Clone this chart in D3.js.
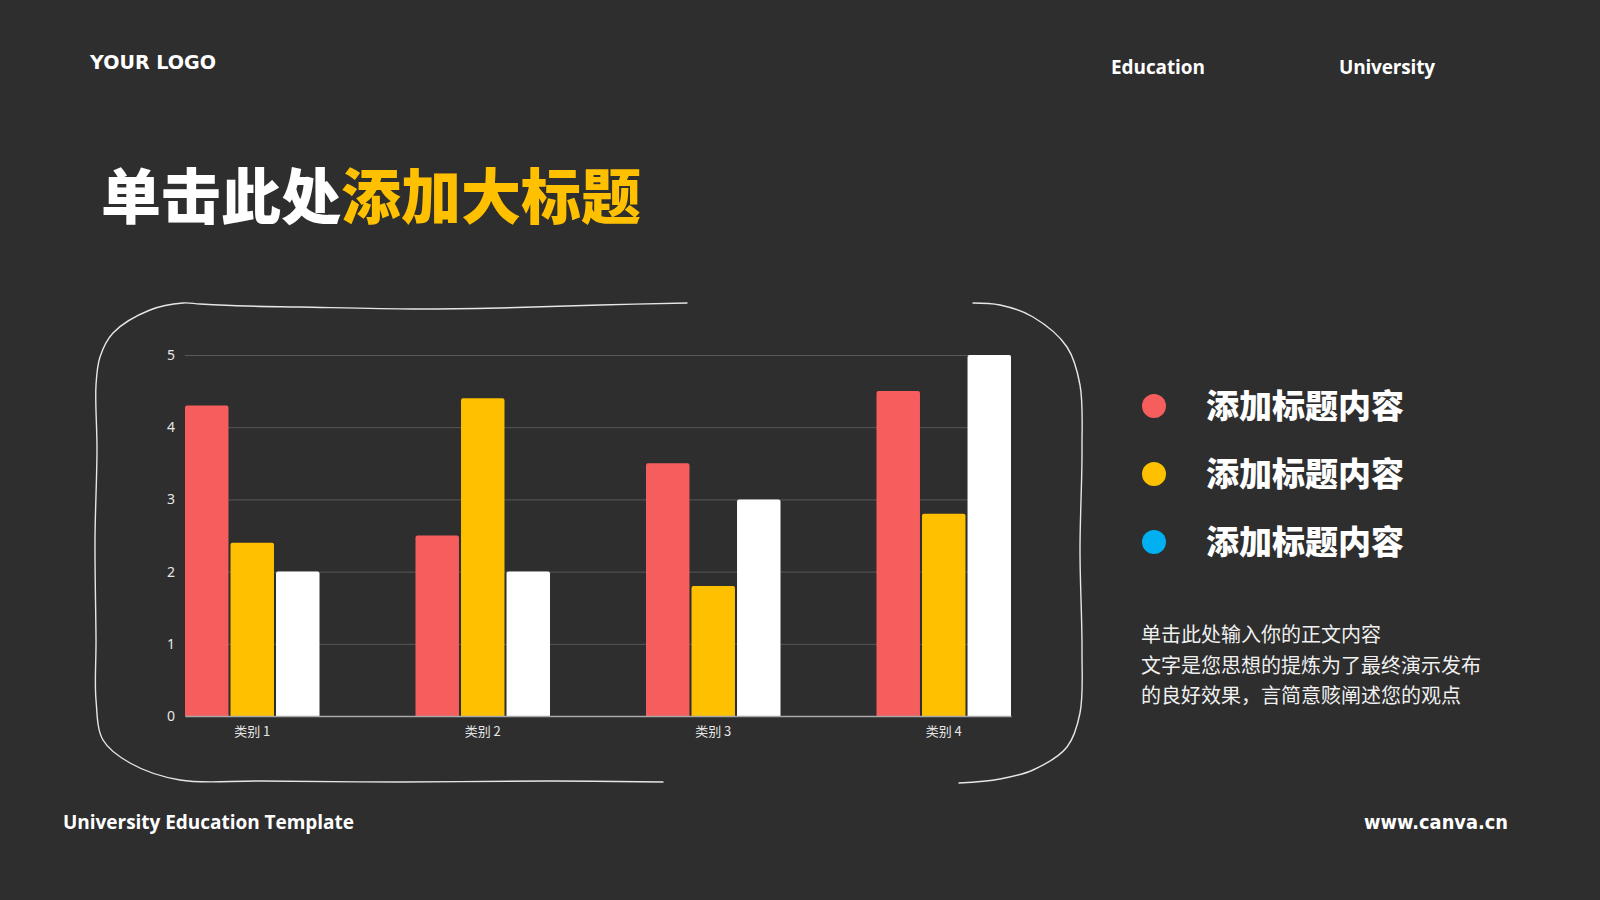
<!DOCTYPE html>
<html>
<head>
<meta charset="utf-8">
<script src="https://cdn.jsdelivr.net/npm/d3@7"></script>
<style>
  html, body { margin: 0; padding: 0; background: #2e2e2e; }
  svg { display: block; }
</style>
</head>
<body>
<div id="chart"></div>
<script>
// dữ liệu của biểu đồ
const categories = ["类别 1", "类别 2", "类别 3", "类别 4"];
const series1 = [4.3, 2.5, 3.5, 4.5];
const series2 = [2.4, 4.4, 1.8, 2.8];
const series3 = [2, 2, 3, 5];
const yTicks = [0, 1, 2, 3, 4, 5];
const legendLabels = ["添加标题内容", "添加标题内容", "添加标题内容"];
const bodyLines = ["单击此处输入你的正文内容", "文字是您思想的提炼为了最终演示发布", "的良好效果，言简意赅阐述您的观点"];

const barColors = ["#f65e5e", "#ffc000", "#ffffff"];
const dotColors = ["#f65e5e", "#ffc000", "#00b0f0"];

const W = 1600, H = 900;
const plot = { left: 185, right: 1011, top: 355, bottom: 716 };

const svg = d3.select("#chart").append("svg")
    .attr("width", W)
    .attr("height", H);

svg.append("rect").attr("width", W).attr("height", H).attr("fill", "#2e2e2e");

// header / footer
const cjk = "'Noto Sans CJK SC', 'Noto Sans', sans-serif";
svg.append("text")
    .attr("x", 90).attr("y", 69)
    .attr("textLength", 126).attr("lengthAdjust", "spacingAndGlyphs")
    .style("font-family", "'DejaVu Sans', sans-serif")
    .style("font-weight", 700).style("font-size", "19px")
    .attr("fill", "#fff")
    .text("YOUR  LOGO");

svg.append("text")
    .attr("x", 1111).attr("y", 74)
    .attr("textLength", 94).attr("lengthAdjust", "spacing")
    .style("font-family", "'Open Sans', sans-serif")
    .style("font-weight", 700).style("font-size", "19px")
    .attr("fill", "#fff").text("Education");

svg.append("text")
    .attr("x", 1339).attr("y", 74)
    .attr("textLength", 96).attr("lengthAdjust", "spacing")
    .style("font-family", "'Open Sans', sans-serif")
    .style("font-weight", 700).style("font-size", "19px")
    .attr("fill", "#fff").text("University");

svg.append("text")
    .attr("x", 63).attr("y", 829)
    .attr("textLength", 291).attr("lengthAdjust", "spacing")
    .style("font-family", "'Open Sans', sans-serif")
    .style("font-weight", 700).style("font-size", "19px")
    .attr("fill", "#fff").text("University  Education Template");

svg.append("text")
    .attr("x", 1364).attr("y", 829)
    .attr("textLength", 144).attr("lengthAdjust", "spacingAndGlyphs")
    .style("font-family", "'DejaVu Sans', sans-serif")
    .style("font-weight", 700).style("font-size", "20px")
    .attr("fill", "#fff").text("www.canva.cn");

// tiêu đề lớn
const title = svg.append("text")
    .attr("x", 101).attr("y", 219)
    .style("font-family", cjk)
    .style("font-weight", 900).style("font-size", "60px");
title.append("tspan").attr("fill", "#ffffff").text("单击此处");
title.append("tspan").attr("fill", "#ffc000").text("添加大标题");

// khung vẽ tay
const frameA = [
    [687, 303], [600, 305], [500, 308], [413, 309], [300, 307], [247, 306], [200, 304], [183, 303],
    [150, 310], [113, 333], [100, 357], [96, 385], [97, 450], [95, 540], [96, 640], [96, 700],
    [103, 740], [130, 763], [180, 780], [260, 781], [400, 782], [550, 781], [663, 782]
];
const frameB = [
    [959, 783], [1000, 779], [1033, 770], [1067, 747], [1080, 713], [1082, 650], [1080, 550],
    [1082, 450], [1080, 385], [1067, 347], [1033, 317], [1000, 305], [973, 303]
];
const line = d3.line().curve(d3.curveCatmullRom.alpha(0.5));
[frameA, frameB].forEach(pts => {
    svg.append("path")
        .attr("d", line(pts))
        .attr("fill", "none")
        .attr("stroke", "#e6e6e6")
        .attr("stroke-width", 1.4)
        .attr("stroke-linecap", "round");
});

// thang đo
const x0 = d3.scaleBand()
    .domain(categories)
    .range([plot.left, plot.right])
    .paddingInner(0.4165)
    .paddingOuter(0);

const x1 = d3.scaleBand()
    .domain([0, 1, 2])
    .range([0, x0.bandwidth()])
    .paddingInner(0.045);

const y = d3.scaleLinear()
    .domain([0, 5])
    .range([plot.bottom, plot.top]);

// lưới + trục Y
const yAxis = svg.append("g")
    .attr("transform", `translate(${plot.left},0)`)
    .call(d3.axisLeft(y)
        .tickValues(yTicks)
        .tickFormat(d3.format("d"))
        .tickSize(-(plot.right - plot.left))
        .tickPadding(10));
yAxis.select(".domain").remove();
yAxis.selectAll(".tick line").attr("stroke", "#585858").attr("stroke-width", 1);
yAxis.selectAll(".tick text")
    .attr("fill", "#e6e6e6")
    .style("font-family", "'Noto Sans', 'Open Sans', sans-serif")
    .style("font-size", "14px");

// cột
const seriesAll = [series1, series2, series3];
const rows = categories.map((c, i) => seriesAll.map((s, k) => ({ cat: c, k: k, v: s[i] })));

function topRounded(xp, yp, w, h, r) {
    const p = d3.path();
    p.moveTo(xp, yp + h);
    p.lineTo(xp, yp + r);
    p.arcTo(xp, yp, xp + r, yp, r);
    p.lineTo(xp + w - r, yp);
    p.arcTo(xp + w, yp, xp + w, yp + r, r);
    p.lineTo(xp + w, yp + h);
    p.closePath();
    return p.toString();
}

svg.append("g").selectAll("g")
    .data(rows)
    .join("g")
    .attr("transform", d => `translate(${x0(d[0].cat)},0)`)
    .selectAll("path")
    .data(d => d)
    .join("path")
    .attr("d", d => topRounded(x1(d.k), y(d.v), x1.bandwidth(), y(0) - y(d.v), 2))
    .attr("fill", d => barColors[d.k]);

// trục X
const xAxis = svg.append("g")
    .attr("transform", `translate(0,${plot.bottom})`)
    .call(d3.axisBottom(x0).tickSize(0).tickSizeOuter(0).tickPadding(11));
xAxis.select(".domain").attr("stroke", "#a8a8a8").attr("stroke-width", 1.5);
xAxis.selectAll(".tick text")
    .attr("fill", "#e6e6e6")
    .style("font-family", cjk)
    .style("font-size", "13px");

// chú giải
const legend = svg.append("g");
const legendY = [406, 474, 542];
legend.selectAll("circle")
    .data(legendLabels)
    .join("circle")
    .attr("cx", 1154)
    .attr("cy", (d, i) => legendY[i])
    .attr("r", 12)
    .attr("fill", (d, i) => dotColors[i]);
legend.selectAll("text")
    .data(legendLabels)
    .join("text")
    .attr("x", 1206)
    .attr("y", (d, i) => legendY[i])
    .attr("dy", "0.36em")
    .attr("fill", "#fff")
    .style("font-family", cjk)
    .style("font-weight", 900)
    .style("font-size", "33px")
    .text(d => d);

// đoạn văn
svg.append("g").selectAll("text")
    .data(bodyLines)
    .join("text")
    .attr("x", 1141)
    .attr("y", (d, i) => 642 + i * 30.5)
    .attr("fill", "#f0f0f0")
    .style("font-family", cjk)
    .style("font-weight", 400)
    .style("font-size", "20px")
    .text(d => d);
</script>
</body>
</html>
